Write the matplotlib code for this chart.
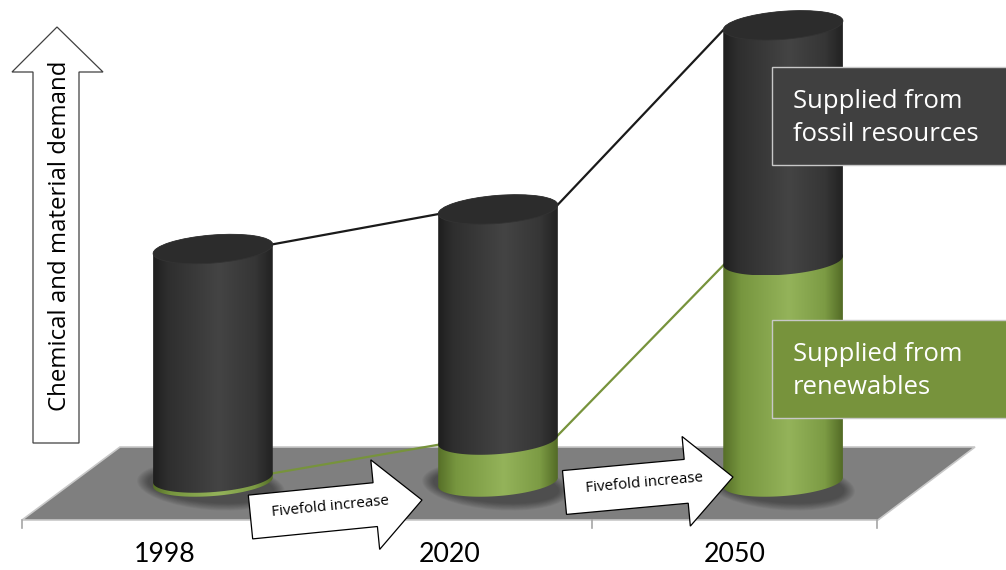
import numpy as np
import matplotlib
matplotlib.use('Agg')
import matplotlib.pyplot as plt
from matplotlib.patches import Polygon, Ellipse, Rectangle
import matplotlib.transforms as mtransforms
from matplotlib.colors import LinearSegmentedColormap

# ---------------- data ----------------
years = ['1998', '2020', '2050']
renewables = [1.7, 18, 95]          # share supplied from renewables
fossil = [98.3, 99, 101]            # share supplied from fossil resources
legend_labels = ['Supplied from\nfossil resources', 'Supplied from\nrenewables']
axis_label = 'Chemical and material demand'
arrow_label = 'Fivefold increase'

# ---------------- figure ----------------
W, H = 1006, 570
fig = plt.figure(figsize=(W / 100, H / 100), dpi=100)
ax = fig.add_axes([0, 0, 1, 1])
XLIM = (-0.747, 2.782)
YLIM = (-37.77, 206.87)
ax.set_xlim(*XLIM)
ax.set_ylim(*YLIM)
ax.axis('off')

# pixel (top-left origin) transform for decorations
tpx = mtransforms.Affine2D().scale(1 / W, -1 / H).translate(0, 1) + fig.transFigure


def d2p(x, v):
    X, Y = ax.transData.transform((x, v))
    return X, H - Y


A, B, PHI = 60.0, 14.0, np.deg2rad(-4.5)


def ell(cx, cy, t):
    t = np.atleast_1d(t)
    x = cx + A * np.cos(t) * np.cos(PHI) - B * np.sin(t) * np.sin(PHI)
    y = cy + A * np.cos(t) * np.sin(PHI) + B * np.sin(t) * np.cos(PHI)
    return np.column_stack([x, y])


dark_cmap = LinearSegmentedColormap.from_list(
    'dark', [(0, '#1e1e1e'), (0.12, '#2e2e2e'), (0.55, '#444444'),
             (0.85, '#363636'), (1, '#222222')])
green_cmap = LinearSegmentedColormap.from_list(
    'green', [(0, '#566f28'), (0.15, '#77963f'), (0.55, '#94b35a'),
              (0.85, '#7c9b44'), (1, '#536b26')])
gvec = np.linspace(0, 1, 256).reshape(1, -1)


def grad_poly(pts, cmap, z):
    patch = Polygon(pts, closed=True, transform=tpx, facecolor='none',
                    edgecolor='none', zorder=z)
    ax.add_patch(patch)
    x0, x1 = pts[:, 0].min(), pts[:, 0].max()
    y0, y1 = pts[:, 1].min(), pts[:, 1].max()
    im = ax.imshow(gvec, cmap=cmap, extent=[x0, x1, y1, y0], transform=tpx,
                   aspect='auto', zorder=z, interpolation='bilinear')
    im.set_clip_path(patch)


def body(cx, y_low, y_high):
    back = ell(cx, y_high, np.linspace(np.pi, 2 * np.pi, 60))
    front = ell(cx, y_low, np.linspace(0, np.pi, 60))
    return np.vstack([back, front])


# ---------------- floor ----------------
floor = Polygon([(22, 520), (120, 447), (975, 447), (878, 520)], closed=True,
                transform=tpx, facecolor='#7f7f7f', edgecolor='#c8c8c8',
                lw=1.2, zorder=1)
ax.add_patch(floor)
for xt in [22, 307, 592, 877]:
    ax.plot([xt, xt], [520, 528], color='#a6a6a6', lw=1.2, transform=tpx, zorder=1)

# ---------------- cylinders ----------------
tops, greens = [], []
for i in range(len(years)):
    cx, y0 = d2p(i, 0)
    _, yg = d2p(i, renewables[i])
    _, yt = d2p(i, renewables[i] + fossil[i])
    greens.append((cx, yg))
    tops.append((cx, yt))

    # soft shadow
    for k in range(10):
        f = 1 - k / 10
        ax.add_patch(Ellipse((cx - 2, y0 + 4), 2 * (A + 2 + 12 * f), 2 * (B + 2 + 8 * f),
                             angle=-np.rad2deg(PHI), transform=tpx,
                             facecolor='black', edgecolor='none', alpha=0.045, zorder=2))
    # green part
    grad_poly(body(cx, y0, yg), green_cmap, 5)
    # dark part
    grad_poly(body(cx, yg, yt), dark_cmap, 6)
    # top face
    ax.add_patch(Ellipse((cx, yt), 2 * A, 2 * B, angle=np.rad2deg(PHI), transform=tpx,
                         facecolor='#2c2c2c', edgecolor='#333333', lw=0.6, zorder=7))

# series lines
for i in range(len(years) - 1):
    p = ell(*tops[i], 0)[0]
    q = ell(*tops[i + 1], np.pi)[0]
    ax.plot([p[0], q[0]], [p[1], q[1]], color='#1a1a1a', lw=1.6, transform=tpx, zorder=3)
    p = ell(*greens[i], 0)[0]
    q = ell(*greens[i + 1], np.pi)[0]
    ax.plot([p[0], q[0]], [p[1], q[1]], color='#77933c', lw=1.6, transform=tpx, zorder=3)

renderer = fig.canvas.get_renderer()


def fit(txt, target, use_height=False):
    bb = txt.get_window_extent(renderer=renderer)
    cur = bb.height if use_height else bb.width
    txt.set_fontsize(txt.get_fontsize() * target / cur)


# ---------------- year labels ----------------
for i, yr in enumerate(years):
    cx, _ = d2p(i, 0)
    t = ax.text(cx - 48, 555, yr, transform=tpx, ha='center', va='center',
                family=['Lato', 'DejaVu Sans'], fontsize=20,
                color='black', zorder=10)
    fit(t, 62)

# ---------------- fivefold arrows ----------------
arrow_specs = [((250.5, 517), (422, 500)), ((564.5, 492.5), (733, 477))]
for (tx, ty), (hx, hy) in arrow_specs:
    L = np.hypot(hx - tx, hy - ty)
    th = np.arctan2(hy - ty, hx - tx)
    Lb = L - 47
    pts = [(0, -22), (Lb, -22), (Lb, -45), (L, 0), (Lb, 45), (Lb, 22), (0, 22)]
    tr = mtransforms.Affine2D().rotate(th).translate(tx, ty)
    ax.add_patch(Polygon(pts, closed=True, transform=tr + tpx, facecolor='white',
                         edgecolor='black', lw=0.9, zorder=11))
    c = tr.transform((80, -2))
    t = ax.text(c[0], c[1], arrow_label, transform=tpx, ha='center', va='center',
                rotation_mode='anchor',
                family=['Open Sans', 'DejaVu Sans'], fontsize=10, zorder=12)
    fit(t, 118)
    t.set_rotation(-np.rad2deg(th))

# ---------------- vertical demand arrow ----------------
ax.add_patch(Polygon([(33, 443), (79, 443), (79, 72), (103, 72), (57, 27), (12, 72), (33, 72)],
                     closed=True, transform=tpx, facecolor='white', edgecolor='#404040',
                     lw=0.9, zorder=11))
t = ax.text(60, 236, axis_label, transform=tpx, rotation=90, ha='center', va='center',
            family=['Open Sans', 'DejaVu Sans'], fontsize=16, zorder=12)
fit(t, 350, use_height=True)

# ---------------- legend boxes ----------------
box_colors = ['#404040', '#77933c']
box_tops = [67, 320]
fs = None
for lab, col, yb in zip(legend_labels, box_colors, box_tops):
    ax.add_patch(Rectangle((772, yb), 240, 98, transform=tpx, facecolor=col,
                           edgecolor='#c8c8c8', lw=1.0, zorder=12))
    t = ax.text(793, yb + 51, lab, transform=tpx, ha='left', va='center',
                family=['Open Sans', 'DejaVu Sans'], fontsize=16, color='white',
                linespacing=1.45, zorder=13)
    if fs is None:
        fit(t, 186)
        fs = t.get_fontsize()
    else:
        t.set_fontsize(fs)

ax.set_xlim(*XLIM)
ax.set_ylim(*YLIM)
fig.savefig('out.png', dpi=100, facecolor='white')
